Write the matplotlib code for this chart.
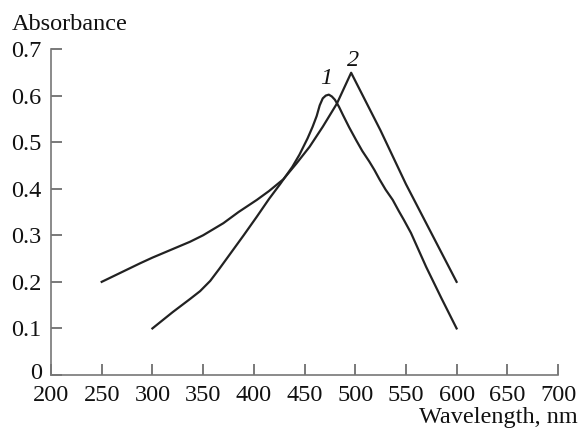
import matplotlib
matplotlib.use("Agg")
import matplotlib.pyplot as plt

# Curve 1
wl1 = [300, 320, 337, 347, 357, 366, 376, 390, 403, 415, 426, 438, 445, 453, 458, 462, 465,
       468, 471, 474, 477, 480, 484, 488, 494, 501, 507, 514, 519, 524, 530, 537, 543, 548,
       555, 570, 585, 600]
abs1 = [0.10, 0.135, 0.163, 0.18, 0.202, 0.228, 0.258, 0.30, 0.34, 0.378, 0.41, 0.447, 0.473,
        0.508, 0.533, 0.556, 0.579, 0.594, 0.600, 0.602, 0.598, 0.591, 0.576, 0.558, 0.532,
        0.504, 0.481, 0.458, 0.44, 0.42, 0.398, 0.376, 0.352, 0.333, 0.305, 0.232, 0.165, 0.10]

# Curve 2
wl2 = [250, 288, 300, 337, 350, 370, 385, 403, 415, 429, 442, 455, 468, 482, 496,
       525, 550, 600]
abs2 = [0.20, 0.24, 0.252, 0.286, 0.30, 0.326, 0.35, 0.376, 0.395, 0.42, 0.454, 0.49, 0.533,
        0.583, 0.649, 0.525, 0.41, 0.20]

curve_labels = ["1", "2"]
label_pos = [(471, 0.637), (497.5, 0.676)]

xticks = [200, 250, 300, 350, 400, 450, 500, 550, 600, 650, 700]
yticks = [0, 0.1, 0.2, 0.3, 0.4, 0.5, 0.6, 0.7]
ytick_labels = ["0", "0.1", "0.2", "0.3", "0.4", "0.5", "0.6", "0.7"]

plt.rcParams['font.family'] = ['Liberation Serif', 'DejaVu Serif']
plt.rcParams['font.size'] = 17.5

fig = plt.figure(figsize=(5.81, 4.28), dpi=100)
ax = fig.add_axes([51/581, 53/428, 507/581, 326/428])

line_color = '#222222'
ax.plot(wl1, abs1, color=line_color, lw=1.6)
ax.plot(wl2, abs2, color=line_color, lw=1.6)

for lab, (x, y) in zip(curve_labels, label_pos):
    ax.text(x, y, lab, style='italic', ha='center', va='center', fontsize=17.5, color='#111111')

ax.set_xlim(200, 700)
ax.set_ylim(0, 0.7)
ax.set_xticks(xticks)
ax.set_xticklabels([str(t) for t in xticks])
ax.set_yticks(yticks)
# the "0" label sits in the corner, drawn separately just above the x labels
ax.set_yticklabels([""] + ytick_labels[1:])

for s in ['top', 'right']:
    ax.spines[s].set_visible(False)
for s in ['left', 'bottom']:
    ax.spines[s].set_color('#777777')
    ax.spines[s].set_linewidth(1.2)

ax.tick_params(direction='in', length=8, width=1.1, color='#555555', labelcolor='#111111')
ax.tick_params(axis='x', pad=7)
ax.tick_params(axis='y', pad=7)

fig.text(42/581, 1 - 379/428, ytick_labels[0], ha='right', va='baseline', fontsize=17.5, color='#111111')

fig.text(12/581, 1 - 30/428, "Absorbance", ha='left', va='baseline', fontsize=17.5, color='#111111')
fig.text(578/581, 1 - 423/428, "Wavelength, nm", ha='right', va='baseline', fontsize=17.5, color='#111111')

fig.savefig("out.png", dpi=100, facecolor='white')
